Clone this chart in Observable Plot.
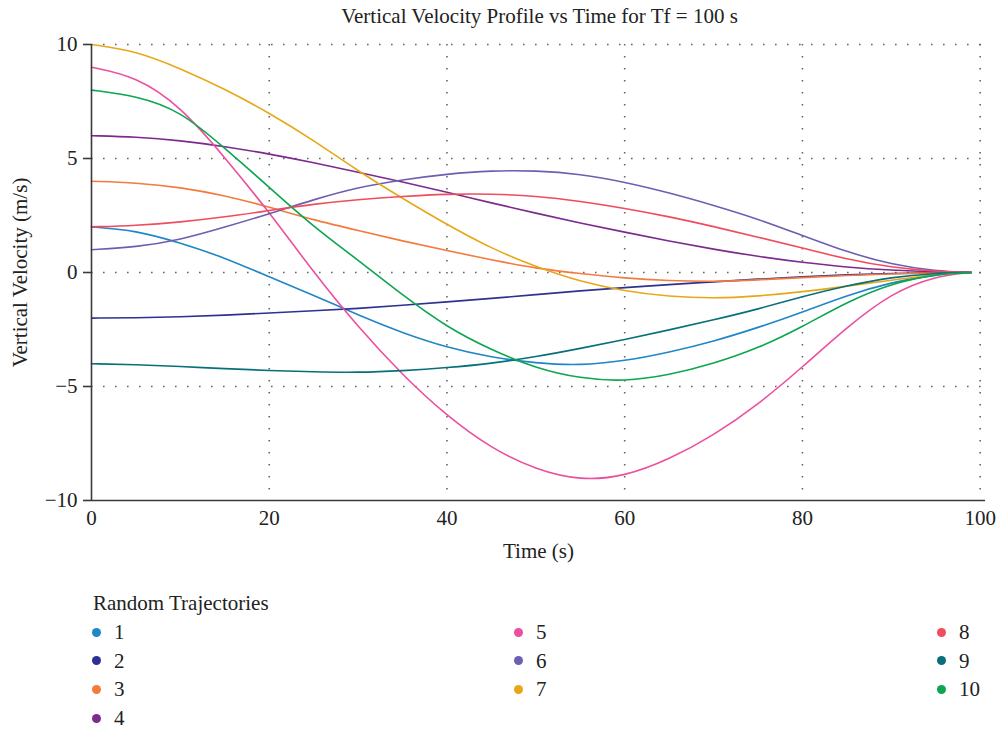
<!DOCTYPE html>
<html>
<head>
<meta charset="utf-8">
<script src="https://cdn.jsdelivr.net/npm/d3@7"></script>
<script src="https://cdn.jsdelivr.net/npm/@observablehq/plot@0.6"></script>
<style>
  body { margin: 0; background: #fff; font-family: "Liberation Serif", "DejaVu Serif", serif; color: #222; }
  #title { width: 1002px; height: 30px; line-height: 32px; font-size: 21px; text-align: center; box-sizing: border-box; padding-left: 99px; padding-right: 22px; color: #222; }
  #chart { height: 545px; }
  #legend { position: relative; width: 1002px; height: 157px; font-size: 21px; color: #222; }
  .lg-title { position: absolute; left: 93px; top: 15px; line-height: 26px; }
  .lg-item { position: absolute; line-height: 26px; height: 26px; }
  .lg-dot { position: absolute; width: 9px; height: 9px; border-radius: 50%; top: 8.5px; left: 0; }
  .lg-label { position: absolute; left: 22px; top: 0; white-space: nowrap; }
</style>
</head>
<body>
<div id="title"></div>
<div id="chart"></div>
<div id="legend"></div>
<script>
const titleText = "Vertical Velocity Profile vs Time for Tf = 100 s";
const xLabel = "Time (s)";
const yLabel = "Vertical Velocity (m/s)";
const legendTitle = "Random Trajectories";
const xTicks = [0, 20, 40, 60, 80, 100];
const yTicks = [-10, -5, 0, 5, 10];

const seriesNames = ["1", "2", "3", "4", "5", "6", "7", "8", "9", "10"];
const colors = ["#1f86c8", "#2e3192", "#f47a3e", "#7d2a8e", "#ec4f9e", "#6e5eb0", "#e6a817", "#ef4c5c", "#08707a", "#0ba64f"];

const times = [0, 5, 10, 15, 20, 25, 30, 35, 40, 45, 50, 55, 60, 65, 70, 75, 80, 85, 90, 95, 99];
const v1  = [2.0, 1.85, 1.3, 0.65, -0.2, -0.99, -1.87, -2.65, -3.29, -3.72, -3.98, -4.08, -3.88, -3.5, -3.02, -2.42, -1.74, -1.0, -0.43, -0.08, 0];
const v2  = [-2.0, -1.99, -1.95, -1.87, -1.78, -1.68, -1.58, -1.44, -1.29, -1.14, -0.97, -0.8, -0.66, -0.53, -0.41, -0.29, -0.18, -0.1, -0.04, -0.01, 0];
const v3  = [4.0, 3.94, 3.74, 3.38, 2.87, 2.3, 1.84, 1.38, 0.96, 0.55, 0.18, -0.05, -0.25, -0.36, -0.4, -0.33, -0.22, -0.13, -0.06, -0.01, 0];
const v4  = [6.0, 5.95, 5.79, 5.53, 5.2, 4.82, 4.4, 3.97, 3.52, 3.05, 2.6, 2.17, 1.77, 1.38, 1.02, 0.7, 0.44, 0.23, 0.1, 0.02, 0];
const v5  = [9.0, 8.6, 7.3, 5.05, 2.65, 0.0, -2.4, -4.5, -6.3, -7.72, -8.65, -9.13, -8.95, -8.2, -7.15, -5.8, -4.15, -2.4, -0.9, -0.15, 0];
const v6  = [1.0, 1.11, 1.43, 1.99, 2.57, 3.2, 3.74, 4.07, 4.32, 4.47, 4.47, 4.32, 3.97, 3.5, 2.95, 2.35, 1.62, 0.9, 0.35, 0.06, 0];
const v7  = [10.0, 9.72, 8.95, 8.05, 7.0, 5.8, 4.45, 3.25, 2.1, 1.05, 0.25, -0.4, -0.82, -1.06, -1.14, -1.04, -0.85, -0.6, -0.34, -0.08, 0];
const v8  = [2.0, 2.06, 2.21, 2.43, 2.72, 3.0, 3.2, 3.34, 3.44, 3.45, 3.36, 3.13, 2.82, 2.45, 2.02, 1.55, 1.08, 0.58, 0.22, 0.04, 0];
const v9  = [-4.0, -4.04, -4.12, -4.22, -4.3, -4.36, -4.39, -4.31, -4.18, -3.99, -3.7, -3.33, -2.94, -2.52, -2.08, -1.61, -1.05, -0.58, -0.2, -0.03, 0];
const v10 = [8.0, 7.75, 7.1, 5.45, 3.74, 2.0, 0.55, -1.0, -2.4, -3.4, -4.2, -4.65, -4.78, -4.5, -4.0, -3.33, -2.38, -1.29, -0.48, -0.07, 0];

const seriesValues = [v1, v2, v3, v4, v5, v6, v7, v8, v9, v10];
const data = seriesNames.flatMap((name, i) => times.map((t, j) => ({series: name, t, v: seriesValues[i][j]})));

document.getElementById("title").textContent = titleText;

const gridStyle = {stroke: "#666", strokeOpacity: 1, strokeWidth: 1.6, strokeDasharray: "1.6,10.4"};
const axisColor = "#3a3a3a";

const chart = Plot.plot({
  width: 1002,
  height: 545,
  marginLeft: 91,
  marginRight: 17,
  marginTop: 14,
  marginBottom: 75,
  style: {fontFamily: "'Liberation Serif', 'DejaVu Serif', serif", fontSize: "21px", color: "#222", background: "#fff"},
  x: {domain: [0, 100.6]},
  y: {domain: [-10, 10]},
  color: {domain: seriesNames, range: colors},
  marks: [
    Plot.gridX(xTicks.filter(d => d > 0), gridStyle),
    Plot.gridY(yTicks.filter(d => d > -10), gridStyle),
    Plot.line(data, {x: "t", y: "v", z: "series", stroke: "series", curve: "basis", strokeWidth: 1.6}),
    Plot.ruleX([0], {stroke: axisColor, strokeWidth: 1.6}),
    Plot.ruleY([-10], {stroke: axisColor, strokeWidth: 1.6}),
    Plot.axisX(xTicks, {tickSize: 0, tickPadding: 10, fontSize: 21, fill: "#222", label: xLabel, labelAnchor: "center", labelArrow: "none", labelOffset: 57}),
    Plot.axisY(yTicks, {tickSize: 8, tickPadding: 6, stroke: axisColor, strokeWidth: 1.6, fontSize: 21, fill: "#222", label: yLabel, labelAnchor: "center", labelArrow: "none", labelOffset: 79})
  ]
});
document.getElementById("chart").appendChild(chart);

// legend
const legend = d3.select("#legend");
legend.append("div").attr("class", "lg-title").text(legendTitle);
const colLeft = [92, 514, 937];
const colStart = [0, 4, 7];
seriesNames.forEach((name, i) => {
  const col = i < 4 ? 0 : (i < 7 ? 1 : 2);
  const row = i - colStart[col];
  const item = legend.append("div").attr("class", "lg-item")
    .style("left", colLeft[col] + "px")
    .style("top", (44 + row * 28.7) + "px");
  item.append("div").attr("class", "lg-dot").style("background", colors[i]);
  item.append("div").attr("class", "lg-label").text(name);
});
</script>
</body>
</html>
